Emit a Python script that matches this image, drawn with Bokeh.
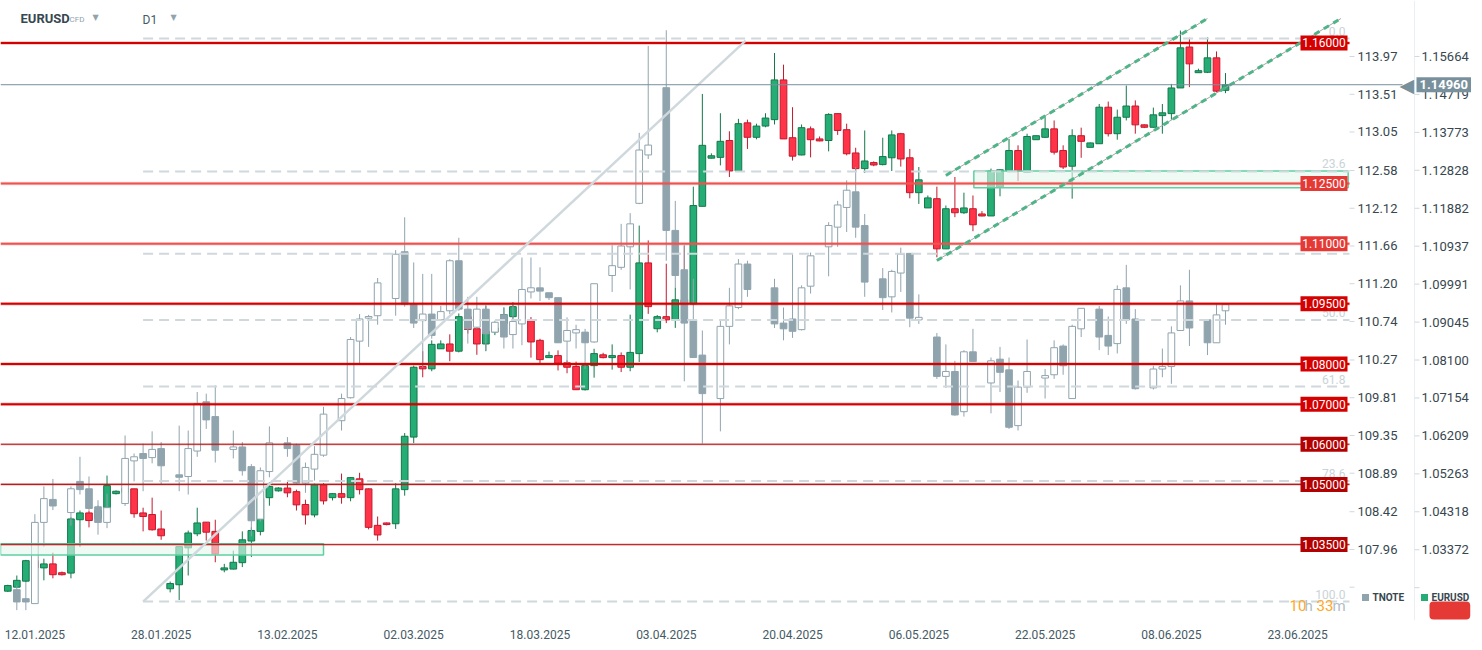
from bokeh.plotting import figure
from bokeh.models import Range1d, FixedTicker, Label
from bokeh.embed import file_html
from bokeh.resources import INLINE
from bokeh.core.properties import value

FONT = "Roboto"

# ---------------- data ----------------
date_labels = ["12.01.2025", "28.01.2025", "13.02.2025", "02.03.2025", "18.03.2025", "03.04.2025",
               "20.04.2025", "06.05.2025", "22.05.2025", "08.06.2025", "23.06.2025"]

eur_open = [1.0234, 1.0244, 1.0259, 1.0310, 1.0292, 1.0302, 1.0280, 1.0279, 1.0412, 1.0429,
            1.0415, 1.0442, 1.0477, 1.0480, 1.0489, 1.0429, 1.0425, 1.0389, 1.0240, 1.0250,
            1.0342, 1.0377, 1.0406, 1.0383, 1.0287, 1.0289, 1.0305, 1.0359, 1.0383, 1.0467,
            1.0484, 1.0491, 1.0482, 1.0450, 1.0424, 1.0499, 1.0467, 1.0477, 1.0467, 1.0514,
            1.0489, 1.0398, 1.0404, 1.0402, 1.0487, 1.0618, 1.0794, 1.0788, 1.0838, 1.0850,
            1.0832, 1.0918, 1.0888, 1.0850, 1.0880, 1.0901, 1.0918, 1.0943, 1.0908, 1.0859,
            1.0816, 1.0821, 1.0803, 1.0794, 1.0736, 1.0796, 1.0823, 1.0816, 1.0821, 1.0792,
            1.0826, 1.1052, 1.0888, 1.0918, 1.0910, 1.0960, 1.0950, 1.1193, 1.1313, 1.1315,
            1.1357, 1.1281, 1.1401, 1.1365, 1.1393, 1.1409, 1.1508, 1.1364, 1.1321, 1.1386,
            1.1361, 1.1357, 1.1424, 1.1384, 1.1326, 1.1287, 1.1302, 1.1297, 1.1314, 1.1374,
            1.1314, 1.1227, 1.1189, 1.1212, 1.1087, 1.1187, 1.1177, 1.1187, 1.1174, 1.1169,
            1.1241, 1.1281, 1.1332, 1.1278, 1.1359, 1.1365, 1.1386, 1.1332, 1.1293, 1.1369,
            1.1340, 1.1349, 1.1440, 1.1374, 1.1415, 1.1443, 1.1396, 1.1390, 1.1419, 1.1424,
            1.1488, 1.1590, 1.1526, 1.1527, 1.1563, 1.1482]
eur_high = [1.0250, 1.0273, 1.0312, 1.0318, 1.0315, 1.0330, 1.0283, 1.0418, 1.0435, 1.0435,
            1.0447, 1.0522, 1.0485, 1.0500, 1.0489, 1.0442, 1.0467, 1.0435, 1.0258, 1.0345,
            1.0385, 1.0442, 1.0406, 1.0412, 1.0302, 1.0335, 1.0383, 1.0393, 1.0470, 1.0506,
            1.0493, 1.0506, 1.0487, 1.0462, 1.0502, 1.0503, 1.0478, 1.0527, 1.0518, 1.0529,
            1.0490, 1.0420, 1.0405, 1.0503, 1.0628, 1.0796, 1.0832, 1.0859, 1.0859, 1.0874,
            1.0926, 1.0928, 1.0917, 1.0946, 1.0895, 1.0941, 1.0954, 1.0958, 1.0917, 1.0863,
            1.0831, 1.0834, 1.0809, 1.0806, 1.0801, 1.0838, 1.0828, 1.0849, 1.0829, 1.0923,
            1.1145, 1.1108, 1.0922, 1.1050, 1.0991, 1.1095, 1.1242, 1.1473, 1.1325, 1.1425,
            1.1380, 1.1411, 1.1409, 1.1399, 1.1425, 1.1575, 1.1546, 1.1440, 1.1397, 1.1392,
            1.1367, 1.1425, 1.1424, 1.1399, 1.1339, 1.1382, 1.1305, 1.1364, 1.1382, 1.1376,
            1.1336, 1.1291, 1.1220, 1.1242, 1.1195, 1.1266, 1.1227, 1.1220, 1.1181, 1.1287,
            1.1285, 1.1361, 1.1345, 1.1374, 1.1369, 1.1415, 1.1407, 1.1345, 1.1385, 1.1389,
            1.1352, 1.1448, 1.1454, 1.1434, 1.1494, 1.1457, 1.1397, 1.1439, 1.1448, 1.1498,
            1.1631, 1.1613, 1.1536, 1.1614, 1.1579, 1.1525]
eur_low = [1.0232, 1.0242, 1.0256, 1.0285, 1.0261, 1.0266, 1.0273, 1.0266, 1.0344, 1.0393,
           1.0405, 1.0439, 1.0475, 1.0472, 1.0417, 1.0383, 1.0385, 1.0362, 1.0231, 1.0212,
           1.0273, 1.0371, 1.0360, 1.0306, 1.0281, 1.0288, 1.0294, 1.0319, 1.0373, 1.0447,
           1.0482, 1.0468, 1.0435, 1.0400, 1.0418, 1.0450, 1.0460, 1.0452, 1.0458, 1.0475,
           1.0388, 1.0360, 1.0398, 1.0389, 1.0472, 1.0603, 1.0767, 1.0782, 1.0838, 1.0807,
           1.0829, 1.0876, 1.0823, 1.0832, 1.0872, 1.0883, 1.0913, 1.0903, 1.0816, 1.0801,
           1.0815, 1.0784, 1.0777, 1.0736, 1.0734, 1.0766, 1.0814, 1.0786, 1.0780, 1.0782,
           1.0805, 1.0925, 1.0879, 1.0902, 1.0890, 1.0943, 1.0946, 1.1193, 1.1312, 1.1295,
           1.1266, 1.1281, 1.1336, 1.1360, 1.1390, 1.1397, 1.1361, 1.1307, 1.1320, 1.1315,
           1.1355, 1.1330, 1.1371, 1.1320, 1.1281, 1.1276, 1.1293, 1.1295, 1.1281, 1.1292,
           1.1213, 1.1199, 1.1189, 1.1066, 1.1087, 1.1166, 1.1174, 1.1131, 1.1168, 1.1169,
           1.1218, 1.1278, 1.1256, 1.1278, 1.1359, 1.1363, 1.1322, 1.1286, 1.1212, 1.1314,
           1.1340, 1.1349, 1.1367, 1.1359, 1.1407, 1.1374, 1.1388, 1.1389, 1.1374, 1.1409,
           1.1488, 1.1490, 1.1526, 1.1525, 1.1477, 1.1475]
eur_close = [1.0248, 1.0261, 1.0310, 1.0292, 1.0302, 1.0275, 1.0275, 1.0414, 1.0429, 1.0410,
             1.0435, 1.0497, 1.0483, 1.0490, 1.0427, 1.0420, 1.0387, 1.0372, 1.0253, 1.0345,
             1.0379, 1.0404, 1.0381, 1.0327, 1.0292, 1.0306, 1.0362, 1.0385, 1.0465, 1.0495,
             1.0491, 1.0479, 1.0449, 1.0424, 1.0499, 1.0459, 1.0477, 1.0468, 1.0517, 1.0487,
             1.0393, 1.0374, 1.0400, 1.0489, 1.0620, 1.0792, 1.0788, 1.0849, 1.0850, 1.0832,
             1.0918, 1.0886, 1.0850, 1.0882, 1.0890, 1.0923, 1.0943, 1.0913, 1.0855, 1.0811,
             1.0821, 1.0802, 1.0792, 1.0736, 1.0796, 1.0826, 1.0816, 1.0821, 1.0792, 1.0829,
             1.1052, 1.0943, 1.0918, 1.0910, 1.0960, 1.0951, 1.1195, 1.1345, 1.1319, 1.1355,
             1.1281, 1.1399, 1.1365, 1.1393, 1.1413, 1.1508, 1.1361, 1.1318, 1.1389, 1.1359,
             1.1356, 1.1422, 1.1382, 1.1324, 1.1287, 1.1306, 1.1296, 1.1317, 1.1371, 1.1311,
             1.1227, 1.1259, 1.1214, 1.1087, 1.1187, 1.1177, 1.1189, 1.1147, 1.1169, 1.1281,
             1.1284, 1.1332, 1.1281, 1.1367, 1.1369, 1.1386, 1.1328, 1.1291, 1.1369, 1.1355,
             1.1351, 1.1440, 1.1374, 1.1415, 1.1443, 1.1396, 1.1390, 1.1421, 1.1426, 1.1488,
             1.1588, 1.1548, 1.1531, 1.1563, 1.1480, 1.1496]

N = None
tn_open = [N, 107.47, 107.36, 107.30, 108.29, 108.57, N, 108.41, 108.79, 108.70,
           108.48, 108.29, N, 108.52, 109.04, 109.13, 109.08, 109.19, N, 108.87,
           108.85, 109.16, 109.76, 109.58, N, 109.18, 109.21, 108.97, 108.33, 108.91,
           N, 109.26, 109.23, 108.77, 108.94, 109.11, N, 109.53, 109.81, 110.50,
           110.78, 110.81, N, 111.02, 111.59, 110.95, 110.75, 110.83, 110.76, 110.87,
           111.48, 110.89, 110.67, 110.89, 110.61, 110.82, 110.58, 110.71, 111.10, 111.15,
           111.09, 111.03, 110.50, 110.60, 110.61, 110.49, N, 111.30, 111.40, 111.65,
           112.18, 112.77, N, 113.59, 111.85, 111.37, 110.76, 110.33, N, 109.80,
           110.68, 110.91, 111.44, N, N, 111.15, 110.72, 110.77, 110.64, 111.17,
           N, 111.65, 111.89, 112.13, 112.32, 111.91, N, 111.26, 111.04, 111.33,
           111.57, 110.76, N, 110.55, 110.07, 110.13, 109.64, 110.37, N, 109.99,
           110.28, 110.15, 109.47, 109.94, N, 110.05, 110.09, 110.44, 109.80, 110.65,
           N, 110.89, 110.57, 110.47, 111.15, 110.77, N, 109.93, 110.16, 110.19,
           110.63, 110.99, N, 110.76, 110.48, 110.87]
tn_high = [N, 107.52, 107.56, 108.39, 108.73, 108.82, N, 108.73, 109.09, 108.85,
           108.56, 108.64, N, 109.35, 109.13, 109.25, 109.40, 109.27, N, 109.47,
           109.41, 109.88, 109.86, 109.96, N, 109.41, 109.27, 109.00, 108.96, 109.46,
           N, 109.33, 109.25, 109.02, 109.22, 109.70, N, 109.86, 110.55, 110.83,
           110.82, 111.27, N, 111.61, 112.01, 111.46, 111.32, 111.32, 110.93, 111.50,
           111.76, 111.04, 111.04, 110.93, 110.75, 110.91, 110.94, 111.52, 111.52, 111.40,
           111.09, 111.03, 110.79, 110.70, 110.65, 111.20, N, 111.67, 111.93, 112.06,
           113.04, 114.10, N, 114.29, 112.21, 111.67, 111.26, 110.63, N, 110.76,
           111.15, 111.50, 111.48, N, N, 111.26, 110.91, 111.57, 111.18, 111.58,
           N, 111.95, 112.21, 112.46, 112.62, 112.05, N, 111.39, 111.37, 111.64,
           111.57, 111.07, N, 110.60, 110.46, 110.26, 110.39, 110.65, N, 110.30,
           110.43, 110.30, 110.02, 110.52, N, 110.16, 110.51, 110.46, 110.70, 110.90,
           N, 110.93, 110.80, 111.18, 111.43, 110.89, N, 110.20, 110.41, 110.68,
           111.18, 111.37, N, 110.77, 110.95, 110.95]
tn_low = [N, 107.22, 107.22, 107.30, 107.99, 108.44, N, 108.25, 108.63, 108.44,
          108.14, 108.22, N, 108.49, 108.79, 108.67, 109.01, 108.75, N, 108.67,
          108.63, 109.09, 109.43, 109.02, N, 109.07, 108.86, 108.12, 108.30, 108.84,
          N, 109.09, 108.76, 108.65, 108.80, 109.09, N, 109.41, 109.80, 110.23,
          110.43, 110.70, N, 110.81, 110.92, 110.66, 110.18, 110.53, 110.75, 110.83,
          110.87, 110.47, 110.65, 110.39, 110.59, 110.41, 110.41, 110.45, 111.02, 110.99,
          111.00, 110.48, 110.20, 110.41, 110.16, 110.48, N, 111.10, 111.37, 111.13,
          112.17, 112.72, N, 111.48, 111.16, 110.01, 110.30, 109.25, N, 109.40,
          110.46, 110.89, 111.04, N, N, 110.66, 110.51, 110.54, 110.63, 111.08,
          N, 111.29, 111.65, 111.83, 111.76, 111.04, N, 110.88, 110.85, 111.10,
          110.67, 110.71, N, 110.04, 109.93, 109.59, 109.58, 110.25, N, 109.62,
          109.88, 109.43, 109.41, 109.87, N, 109.80, 110.04, 110.09, 109.80, 110.55,
          N, 110.39, 110.33, 110.35, 110.71, 109.91, N, 109.91, 110.06, 109.98,
          110.63, 110.44, N, 110.33, 110.48, 110.70]
tn_close = [N, 107.32, 107.32, 108.29, 108.58, 108.49, N, 108.70, 108.69, 108.46,
            108.29, 108.47, N, 109.07, 109.09, 109.07, 109.18, 108.98, N, 108.84,
            109.19, 109.74, 109.54, 109.17, N, 109.21, 108.92, 108.31, 108.92, 109.26,
            N, 109.19, 108.77, 108.96, 109.12, 109.61, N, 109.80, 110.52, 110.77,
            110.80, 111.21, N, 111.56, 110.95, 110.72, 110.83, 110.57, 110.86, 111.48,
            110.89, 110.65, 110.89, 110.59, 110.73, 110.55, 110.74, 111.13, 111.15, 111.11,
            111.03, 110.48, 110.63, 110.64, 110.48, 111.20, N, 111.42, 111.66, 111.93,
            112.83, 112.89, N, 111.85, 111.30, 110.72, 110.30, 109.86, N, 110.68,
            110.93, 111.44, 111.13, N, N, 110.71, 110.65, 110.62, 111.15, 111.54,
            N, 111.91, 112.16, 112.34, 111.89, 111.22, N, 111.03, 111.35, 111.56,
            110.78, 110.79, N, 110.07, 110.13, 109.60, 110.37, 110.25, N, 110.26,
            110.12, 109.45, 109.94, 110.13, N, 110.08, 110.42, 110.20, 110.68, 110.90,
            N, 110.55, 110.44, 111.13, 110.76, 109.92, N, 110.16, 110.19, 110.60,
            110.99, 110.66, N, 110.48, 110.82, 110.95]

tn_ticks = [113.97, 113.51, 113.05, 112.58, 112.12, 111.66, 111.20, 110.74, 110.27, 109.81,
            109.35, 108.89, 108.42, 107.96]
tn_extra_tick = 107.50
eur_ticks = [1.15664, 1.14719, 1.13773, 1.12828, 1.11882, 1.10937, 1.09991, 1.09045, 1.08100,
             1.07154, 1.06209, 1.05263, 1.04318, 1.03372]
eur_extra_tick = 1.02427

levels = [1.16000, 1.12500, 1.11000, 1.09500, 1.08000, 1.07000, 1.06000, 1.05000, 1.03500]
fib_ratios = [0.0, 23.6, 38.2, 50.0, 61.8, 78.6, 100.0]
fib_high = 1.1611
fib_low = 1.0208
fib_start_idx = 15
trend_x = [15.0, 81.8]
trend_y = [1.0208, 1.1606]
chan_up_x = [104.0, 133.0]
chan_up_y = [1.1270, 1.1661]
chan_lo_x = [103.0, 147.8]
chan_lo_y = [1.1058, 1.1661]
zone1_x = [-0.81, 35.0]
zone1_y = [1.0324, 1.0352]
zone2_x = [107.1, 148.6]
zone2_y = [1.1239, 1.1281]
last_price = 1.14960

# ---------------- layout ----------------
FW, FH = 1476, 620
STEP = 9.02
X0 = -0.81
X1 = X0 + FW / STEP
T0, T1 = 107.094, 114.653
E0, E1 = 1.01609, 1.17059


def px_x(page_x):
    return X0 + page_x * (X1 - X0) / FW


def px_t(page_y):
    return T1 - page_y * (T1 - T0) / FH


p = figure(frame_width=FW, frame_height=FH, x_range=Range1d(X0, X1), y_range=Range1d(T0, T1),
           y_axis_location=None, output_backend="svg", toolbar_location=None,
           min_border_left=0, min_border_top=0, min_border_bottom=0, min_border_right=0)
p.extra_y_ranges = {"eur": Range1d(E0, E1)}
p.outline_line_color = None
p.xgrid.visible = False
p.ygrid.visible = False
p.background_fill_color = "white"
p.border_fill_color = "white"

# x axis (dates)
xa = p.xaxis[0]
xticks = [14 * k + 3 for k in range(len(date_labels))]
xa.ticker = FixedTicker(ticks=xticks)
xa.major_label_overrides = {t: lab for t, lab in zip(xticks, date_labels)}
xa.axis_line_color = None
xa.major_tick_line_color = None
xa.minor_tick_line_color = None
xa.major_label_text_font = FONT
xa.major_label_text_font_size = "12px"
xa.major_label_text_color = "#455a64"
xa.major_label_standoff = 3


# ---------------- candles ----------------
def draw_candles(o, h, l, c, up_fill, up_line, dn_fill, dn_line, rng, width=0.74):
    xs, hs, ls, tops, bots, fills, lines = [], [], [], [], [], [], []
    for i in range(len(o)):
        if o[i] is None:
            continue
        up = c[i] >= o[i]
        xs.append(i)
        hs.append(h[i])
        ls.append(l[i])
        tops.append(max(o[i], c[i]))
        bots.append(min(o[i], c[i]))
        fills.append(up_fill if up else dn_fill)
        lines.append(up_line if up else dn_line)
    kw = {} if rng is None else {"y_range_name": rng}
    p.segment(x0=xs, y0=hs, x1=xs, y1=ls, line_color=lines, line_width=1, **kw)
    p.vbar(x=xs, top=tops, bottom=bots, width=width, fill_color=fills, line_color=lines,
           line_width=1, **kw)


draw_candles(eur_open, eur_high, eur_low, eur_close, "#26ad75", "#14784a", "#ff3448", "#c3192d", "eur")
draw_candles(tn_open, tn_high, tn_low, tn_close, "#ffffff", "#90a4ae", "#90a4ae", "#90a4ae", None)

# ---------------- drawings ----------------
for zx, zy in ((zone1_x, zone1_y), (zone2_x, zone2_y)):
    p.quad(left=zx[0], right=zx[1], bottom=zy[0], top=zy[1], fill_color="#e6f6ef", fill_alpha=0.6,
           line_color="#5fd0a2", line_width=1.5, y_range_name="eur")

RIGHT = px_x(1349)
lvl_line = ["#d50000", "#ef5350", "#ef5350", "#d50000", "#d50000", "#d50000", "#b71c1c", "#b71c1c", "#b71c1c"]
lvl_w = [2, 2, 2, 2, 2, 2, 1, 1.2, 1]
lvl_box = ["#d50000", "#e53935", "#e53935", "#d50000", "#d50000", "#d50000", "#b30000", "#b30000", "#b30000"]
for lv, lc, lw in zip(levels, lvl_line, lvl_w):
    p.segment(x0=[X0], y0=[lv], x1=[RIGHT], y1=[lv], line_color=lc, line_width=lw + 1.5, line_alpha=0.25,
              y_range_name="eur")
    p.segment(x0=[X0], y0=[lv], x1=[RIGHT], y1=[lv], line_color=lc, line_width=lw, y_range_name="eur")

# fibonacci
fib_vals = [fib_high - r / 100.0 * (fib_high - fib_low) for r in fib_ratios]
p.segment(x0=[fib_start_idx] * len(fib_vals), y0=fib_vals, x1=[RIGHT] * len(fib_vals), y1=fib_vals,
          line_color="#cfd8dc", line_width=2, line_dash="10 6", y_range_name="eur")
p.text(x=[px_x(1345)] * len(fib_vals), y=fib_vals, text=["%.1f" % r for r in fib_ratios],
       text_align="right", text_baseline="bottom", y_offset=-3, text_font=value(FONT),
       text_font_size="12px", text_color="#c9d3d8", y_range_name="eur")

# trend line and channel
p.line(trend_x, trend_y, line_color="#cfd8dc", line_width=2.5, y_range_name="eur")
for cx, cy in ((chan_up_x, chan_up_y), (chan_lo_x, chan_lo_y)):
    p.line(cx, cy, line_color="#a5a5a5", line_width=1, y_range_name="eur")
    p.line(cx, cy, line_color="#4fb487", line_width=3, line_dash="6 5", y_range_name="eur")

# last price line
p.segment(x0=[X0], y0=[last_price], x1=[px_x(1402)], y1=[last_price], line_color="#78909c", line_width=1,
          y_range_name="eur")

# level tags
tag_x = px_x(1323.5)
p.rect(x=[tag_x] * len(levels), y=levels, width=47, height=15, width_units="screen", height_units="screen",
       fill_color=lvl_box, line_color=None, y_range_name="eur")
p.text(x=[tag_x] * len(levels), y=levels, text=["%.5f" % v for v in levels], text_align="center",
       text_baseline="middle", text_font=value(FONT), text_font_size="12px", text_color="white",
       y_range_name="eur")

# ---------------- price scales (right) ----------------
tn_all = tn_ticks + [tn_extra_tick]
eur_all = eur_ticks + [eur_extra_tick]
p.segment(x0=[px_x(1349)] * len(tn_all), y0=tn_all, x1=[px_x(1354)] * len(tn_all), y1=tn_all,
          line_color="#cfd8dc", line_width=1)
p.text(x=[px_x(1357)] * len(tn_ticks), y=tn_ticks, text=["%.2f" % v for v in tn_ticks],
       text_align="left", text_baseline="middle", text_font=value(FONT), text_font_size="13px",
       text_color="#37474f")
p.segment(x0=[px_x(1414)], y0=[E0], x1=[px_x(1414)], y1=[E1], line_color="#eceff1", line_width=1,
          y_range_name="eur")
p.segment(x0=[px_x(1414)] * len(eur_all), y0=eur_all, x1=[px_x(1419)] * len(eur_all), y1=eur_all,
          line_color="#cfd8dc", line_width=1, y_range_name="eur")
p.text(x=[px_x(1421)] * len(eur_ticks), y=eur_ticks, text=["%.5f" % v for v in eur_ticks],
       text_align="left", text_baseline="middle", text_font=value(FONT), text_font_size="13px",
       text_color="#37474f", y_range_name="eur")


# ---------------- annotations ----------------
def lab(x, y, text, size, color, bold=False, font=FONT, **kw):
    p.add_layout(Label(x=px_x(x), y=px_t(y), text=text, text_font=font, text_font_size=size,
                       text_color=color, text_baseline="middle", text_align="left",
                       text_font_style="bold" if bold else "normal", **kw))


lab(20, 18, "EURUSD", "13px", "#37474f", bold=True)
lab(69, 19, "CFD", "8px", "#90a4ae")
lab(92, 17, "\u25bc", "8px", "#90a4ae", font="DejaVu Sans")
lab(142, 19, "D1", "12px", "#455a64")
lab(170, 17, "\u25bc", "8px", "#90a4ae", font="DejaVu Sans")

# countdown
lab(1289, 605, "10", "15px", "#ffa726")
lab(1304, 605, "h", "15px", "#b0bec5")
lab(1316, 605, "33", "15px", "#ffa726")
lab(1332, 605, "m", "15px", "#b0bec5")

# legend in price-scale area
p.scatter(x=[px_x(1365), px_x(1424)], y=[px_t(597)] * 2, marker="square", size=7,
          fill_color=["#90a4ae", "#26ad75"], line_color=None)
lab(1372, 597, "TNOTE", "10px", "#37474f", bold=True)
lab(1431, 597, "EURUSD", "10px", "#37474f", bold=True)
p.add_layout(Label(x=px_x(1429), y=px_t(610), text="\u2003\u2003\u2003", text_font=FONT,
                   text_font_size="12px", text_baseline="middle", text_align="left",
                   background_fill_color="#e53935", border_radius=4, padding=2))

# last price tag
p.add_layout(Label(x=px_x(1399), y=last_price, y_range_name="eur", text="\u25c0", text_font="DejaVu Sans",
                   text_font_size="19px", text_color="#78909c", text_baseline="middle", text_align="left"))
p.add_layout(Label(x=px_x(1416), y=last_price, y_range_name="eur", text="1.14960", text_font=FONT,
                   text_font_size="13px", text_font_style="bold", text_color="white",
                   text_baseline="middle", text_align="left", background_fill_color="#78909c",
                   padding=3))

open("out.html", "w").write(file_html(p, INLINE))
